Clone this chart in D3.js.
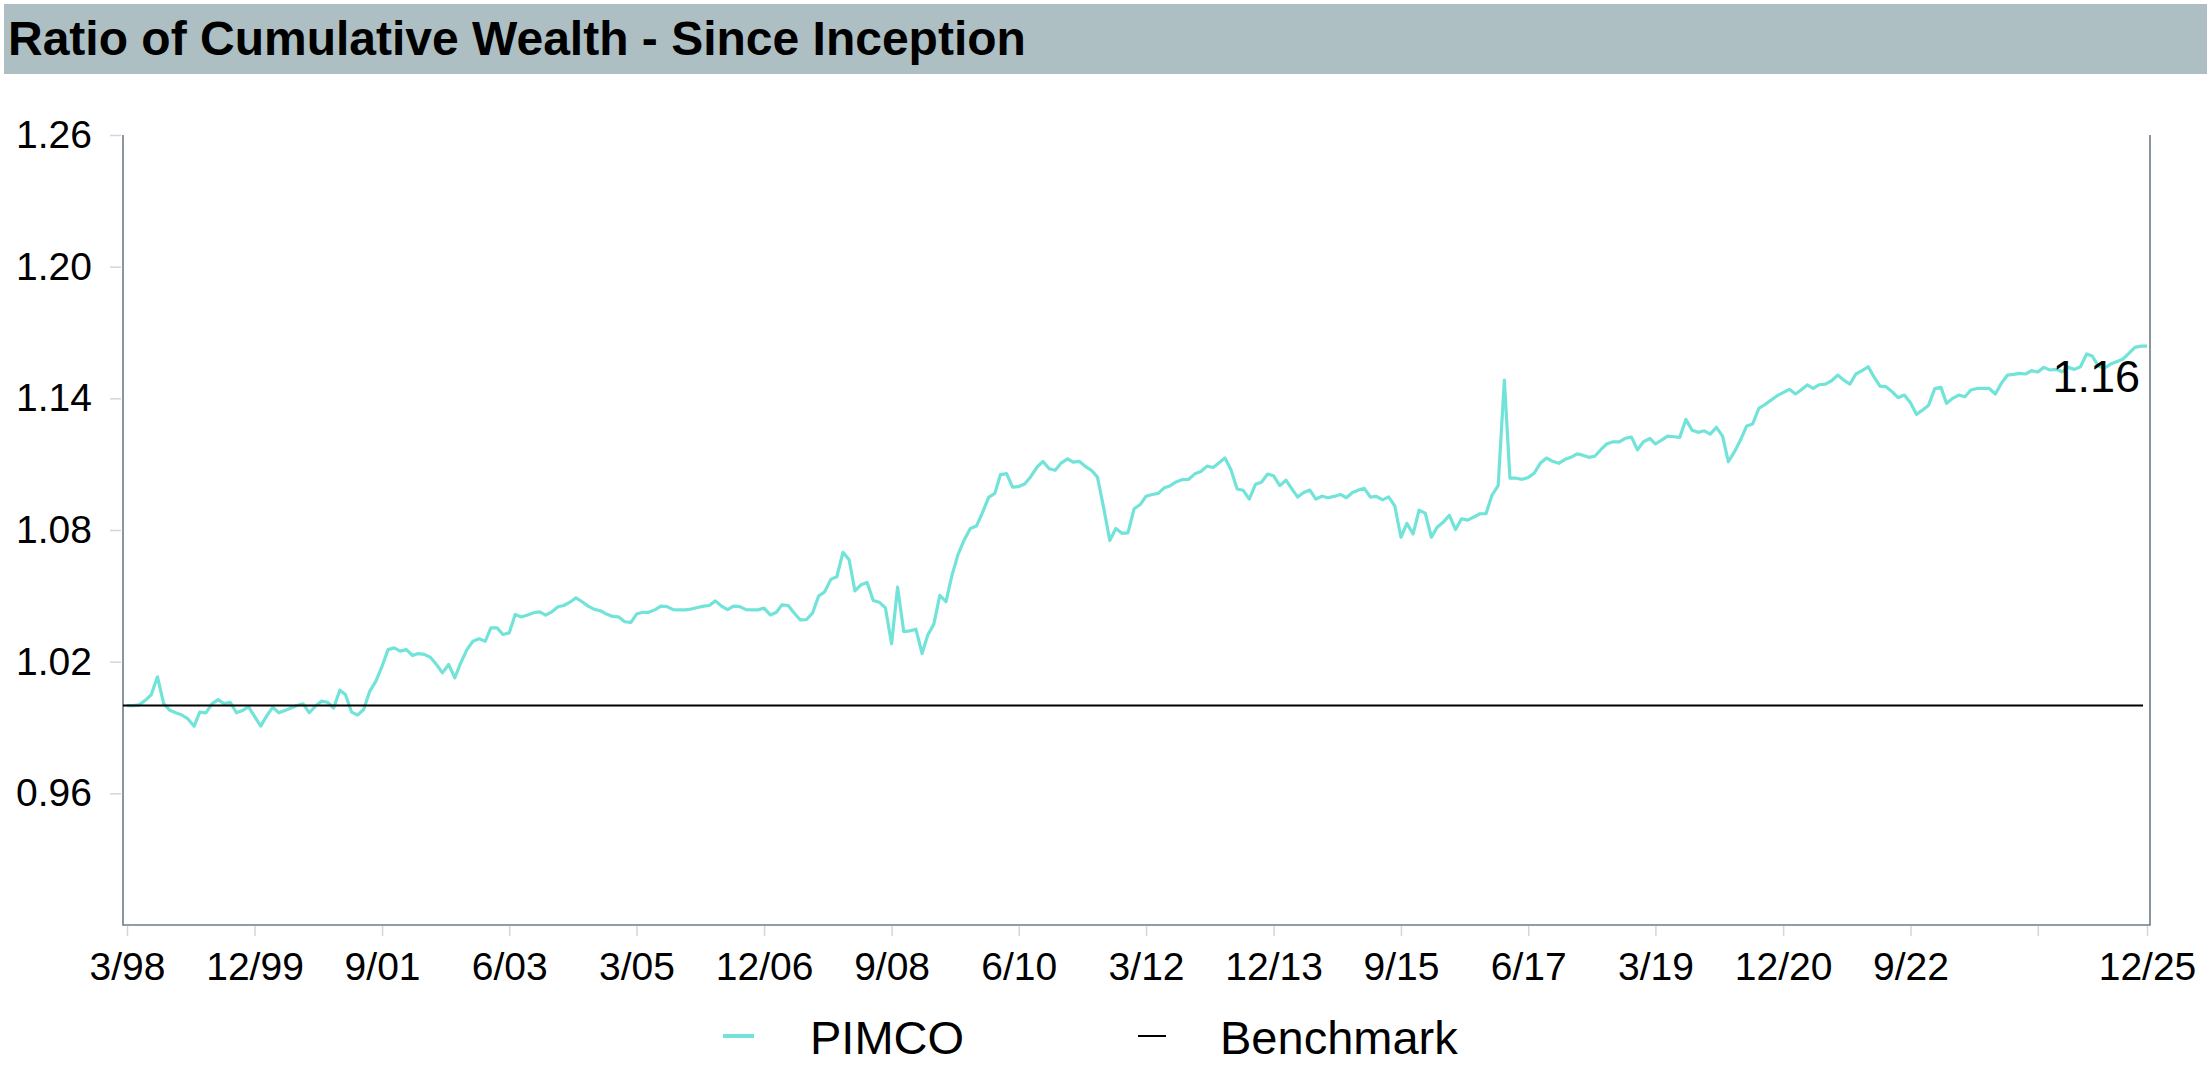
<!DOCTYPE html>
<html>
<head>
<meta charset="utf-8">
<script src="https://cdn.jsdelivr.net/npm/d3@7"></script>
<style>
  html, body { margin: 0; padding: 0; background: #ffffff; }
  svg { display: block; font-family: "Liberation Sans", Arial, Helvetica, sans-serif; }
</style>
</head>
<body>
<svg id="chart" width="2207" height="1068"></svg>
<script>
// ---- data -------------------------------------------------------------
const chartTitle = "Ratio of Cumulative Wealth - Since Inception";
const seriesNames = ["PIMCO", "Benchmark"];
const firstMonth = "3/98";
const lastMonth = "12/25";

// Monthly ratio of cumulative wealth (fund / benchmark), 3/98 .. 12/25
const pimcoRatio = [
  1.0000, 1.0000, 1.0003, 1.0024, 1.0050, 1.0131, 1.0009, 0.9979, 0.9967, 0.9957,
  0.9939, 0.9906, 0.9970, 0.9967, 1.0008, 1.0027, 1.0009, 1.0015, 0.9967, 0.9977,
  0.9994, 0.9951, 0.9906, 0.9954, 0.9992, 0.9967, 0.9977, 0.9989, 1.0000, 1.0008,
  0.9967, 0.9997, 1.0020, 1.0015, 0.9989, 1.0070, 1.0050, 0.9970, 0.9957, 0.9982,
  1.0065, 1.0111, 1.0179, 1.0255, 1.0263, 1.0248, 1.0255, 1.0228, 1.0237, 1.0233,
  1.0220, 1.0187, 1.0149, 1.0187, 1.0126, 1.0195, 1.0255, 1.0293, 1.0304, 1.0293,
  1.0354, 1.0354, 1.0324, 1.0331, 1.0415, 1.0404, 1.0413, 1.0423, 1.0427, 1.0412,
  1.0427, 1.0450, 1.0456, 1.0471, 1.0491, 1.0473, 1.0453, 1.0438, 1.0432, 1.0417,
  1.0406, 1.0404, 1.0382, 1.0379, 1.0417, 1.0425, 1.0425, 1.0436, 1.0453, 1.0451,
  1.0437, 1.0436, 1.0436, 1.0440, 1.0447, 1.0453, 1.0456, 1.0477, 1.0453, 1.0437,
  1.0453, 1.0451, 1.0437, 1.0436, 1.0436, 1.0444, 1.0413, 1.0425, 1.0459, 1.0456,
  1.0422, 1.0390, 1.0391, 1.0421, 1.0499, 1.0518, 1.0575, 1.0587, 1.0698, 1.0664,
  1.0522, 1.0551, 1.0561, 1.0479, 1.0471, 1.0445, 1.0282, 1.0540, 1.0337, 1.0340,
  1.0348, 1.0237, 1.0320, 1.0371, 1.0502, 1.0474, 1.0594, 1.0690, 1.0756, 1.0807,
  1.0818, 1.0879, 1.0949, 1.0967, 1.1052, 1.1057, 1.0995, 1.0998, 1.1010, 1.1044,
  1.1087, 1.1112, 1.1079, 1.1072, 1.1106, 1.1124, 1.1109, 1.1113, 1.1090, 1.1072,
  1.1041, 1.0902, 1.0752, 1.0807, 1.0785, 1.0787, 1.0897, 1.0916, 1.0954, 1.0962,
  1.0967, 1.0993, 1.1002, 1.1020, 1.1030, 1.1031, 1.1056, 1.1067, 1.1091, 1.1085,
  1.1105, 1.1128, 1.1075, 1.0987, 1.0981, 1.0941, 1.1008, 1.1018, 1.1055, 1.1047,
  1.1002, 1.1027, 1.0990, 1.0950, 1.0971, 1.0982, 1.0941, 1.0954, 1.0947, 1.0953,
  1.0962, 1.0947, 1.0971, 1.0982, 1.0990, 1.0950, 1.0953, 1.0937, 1.0951, 1.0910,
  1.0767, 1.0830, 1.0782, 1.0890, 1.0877, 1.0767, 1.0813, 1.0836, 1.0867, 1.0802,
  1.0851, 1.0845, 1.0859, 1.0874, 1.0874, 1.0959, 1.1002, 1.1483, 1.1036, 1.1036,
  1.1031, 1.1039, 1.1059, 1.1105, 1.1128, 1.1113, 1.1104, 1.1121, 1.1131, 1.1147,
  1.1141, 1.1131, 1.1136, 1.1167, 1.1193, 1.1202, 1.1202, 1.1218, 1.1223, 1.1165,
  1.1203, 1.1217, 1.1192, 1.1210, 1.1228, 1.1225, 1.1222, 1.1304, 1.1255, 1.1245,
  1.1252, 1.1237, 1.1268, 1.1228, 1.1111, 1.1157, 1.1210, 1.1274, 1.1283, 1.1354,
  1.1372, 1.1392, 1.1412, 1.1426, 1.1441, 1.1420, 1.1438, 1.1461, 1.1445, 1.1462,
  1.1465, 1.1480, 1.1506, 1.1483, 1.1465, 1.1511, 1.1526, 1.1544, 1.1499, 1.1456,
  1.1453, 1.1430, 1.1403, 1.1415, 1.1380, 1.1327, 1.1347, 1.1369, 1.1444, 1.1450,
  1.1377, 1.1400, 1.1415, 1.1407, 1.1438, 1.1445, 1.1445, 1.1445, 1.1420, 1.1468,
  1.1506, 1.1509, 1.1514, 1.1511, 1.1526, 1.1520, 1.1541, 1.1529, 1.1532, 1.1521,
  1.1541, 1.1532, 1.1544, 1.1602, 1.1593, 1.1547, 1.1537, 1.1556, 1.1567, 1.1578,
  1.1605, 1.1632, 1.1638, 1.1638
];

// The benchmark relative to itself stays at 1.00
const benchmarkRatio = 1.00;

const xTickLabels = ["3/98", "12/99", "9/01", "6/03", "3/05", "12/06", "9/08", "6/10",
  "3/12", "12/13", "9/15", "6/17", "3/19", "12/20", "9/22", "6/24", "12/25"];
const xTicksWithoutLabel = ["6/24"];
const yTickValues = [0.96, 1.02, 1.08, 1.14, 1.20, 1.26];
const yDomain = [0.90, 1.26];

// ---- styling ----------------------------------------------------------
const colors = { pimco: "#72e3d8", benchmark: "#000000", axis: "#6e7c89", tick: "#d6d6d6", band: "#adbfc3" };

// ---- layout -----------------------------------------------------------
const svg = d3.select("#chart");
const W = 2207;
const plot = { left: 123, right: 2150, top: 135, bottom: 925 };

const parseMonth = d3.timeParse("%m/%y");
const start = parseMonth(firstMonth);
const dates = pimcoRatio.map((_, i) => d3.timeMonth.offset(start, i));
const series = pimcoRatio.map((v, i) => ({ date: dates[i], value: v }));

const x = d3.scaleTime()
  .domain([start, parseMonth(lastMonth)])
  .range([127, 2147]);
const y = d3.scaleLinear().domain(yDomain).range([plot.bottom, plot.top]);

// title band
svg.append("rect")
  .attr("x", 4).attr("y", 4).attr("width", W - 4).attr("height", 70)
  .attr("fill", colors.band);
svg.append("text")
  .attr("x", 8).attr("y", 55)
  .attr("font-size", 48).attr("font-weight", "bold")
  .attr("fill", "#000")
  .text(chartTitle);

// y axis ticks + labels
const yAxis = d3.axisLeft(y)
  .tickValues(yTickValues)
  .tickFormat(d3.format(".2f"))
  .tickSize(11)
  .tickPadding(18);
const gy = svg.append("g").attr("transform", `translate(${plot.left - 2},0)`).call(yAxis);
gy.select(".domain").remove();
gy.selectAll(".tick line").attr("stroke", colors.tick).attr("stroke-width", 1.5);
gy.selectAll(".tick text").attr("font-size", 39).attr("fill", "#000")
  .attr("font-family", "Liberation Sans, Arial, sans-serif");

// x axis ticks + labels
const xTickDates = xTickLabels.map(parseMonth);
const xAxis = d3.axisBottom(x)
  .tickValues(xTickDates)
  .tickFormat(d => {
    const s = `${d.getMonth() + 1}/${d3.timeFormat("%y")(d)}`;
    return xTicksWithoutLabel.includes(s) ? "" : s;
  })
  .tickSize(10)
  .tickPadding(16);
const gx = svg.append("g").attr("transform", `translate(0,${plot.bottom + 1})`).call(xAxis);
gx.select(".domain").remove();
gx.selectAll(".tick line").attr("stroke", colors.tick).attr("stroke-width", 1.5);
gx.selectAll(".tick text").attr("font-size", 39).attr("fill", "#000")
  .attr("font-family", "Liberation Sans, Arial, sans-serif");

// frame lines (left, bottom, right)
svg.append("path")
  .attr("d", `M${plot.left},${plot.top}V${plot.bottom}H${plot.right}V${plot.top}`)
  .attr("fill", "none")
  .attr("stroke", colors.axis)
  .attr("stroke-width", 1.6);

// fund line
const line = d3.line().x(d => x(d.date)).y(d => y(d.value));
svg.append("path")
  .datum(series)
  .attr("d", line)
  .attr("fill", "none")
  .attr("stroke", colors.pimco)
  .attr("stroke-width", 3.2)
  .attr("stroke-linejoin", "round");

// benchmark line
svg.append("path")
  .datum([{ date: start, value: benchmarkRatio }, { date: dates[dates.length - 1], value: benchmarkRatio }])
  .attr("d", d3.line().x(d => x(d.date) - 4).y(d => y(d.value)))
  .attr("fill", "none")
  .attr("stroke", colors.benchmark)
  .attr("stroke-width", 2);

// end value label
const last = series[series.length - 1];
svg.append("text")
  .attr("x", x(last.date) - 7)
  .attr("y", y(last.value) + 46)
  .attr("text-anchor", "end")
  .attr("font-size", 45)
  .attr("fill", "#000")
  .text(d3.format(".2f")(last.value));

// legend
const legendItems = [
  { name: seriesNames[0], color: colors.pimco, width: 4, x: 723, sw: 31, tx: 810 },
  { name: seriesNames[1], color: colors.benchmark, width: 2, x: 1138, sw: 28, tx: 1220 }
];
const lg = svg.append("g");
legendItems.forEach(it => {
  lg.append("line")
    .attr("x1", it.x).attr("x2", it.x + it.sw)
    .attr("y1", 1036).attr("y2", 1036)
    .attr("stroke", it.color).attr("stroke-width", it.width);
  lg.append("text")
    .attr("x", it.tx).attr("y", 1054)
    .attr("font-size", 47).attr("fill", "#000")
    .text(it.name);
});
</script>
</body>
</html>
